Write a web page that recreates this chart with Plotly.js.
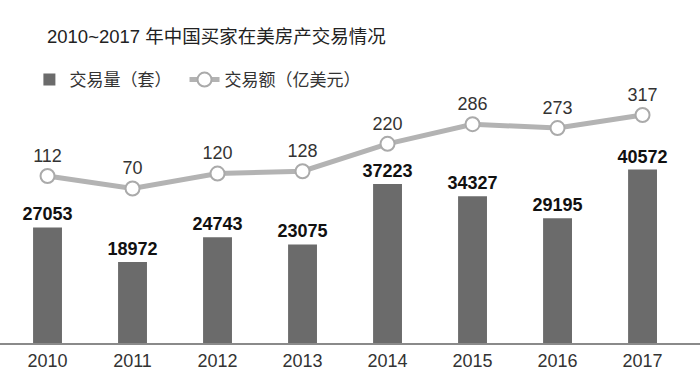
<!DOCTYPE html>
<html>
<head>
<meta charset="utf-8">
<script src="https://cdn.plot.ly/plotly-3.0.1.min.js"></script>
<style>html,body{margin:0;padding:0;background:#fff;}#chart{width:700px;height:375px;}</style>
</head>
<body>
<div id="chart"></div>
<script>
const years = ['2010','2011','2012','2013','2014','2015','2016','2017'];
const volume = [27053, 18972, 24743, 23075, 37223, 34327, 29195, 40572];
const amount = [112, 70, 120, 128, 220, 286, 273, 317];
const titleText = '2010~2017 年中国买家在美房产交易情况';
const volumeName = '交易量（套）';
const amountName = '交易额（亿美元）';

const FONT = 'Liberation Sans, Arial, Noto Sans CJK SC, sans-serif';

const traces = [
  {
    type: 'bar', x: years, y: volume, name: volumeName, legend: 'legend',
    marker: {color: '#6b6b6b'}, width: 0.34,
    text: volume.map(String), textposition: 'outside', cliponaxis: false, constraintext: 'none',
    textfont: {family: FONT, size: 18, color: '#111', weight: 'bold'},
    hoverinfo: 'none'
  },
  {
    type: 'scatter', mode: 'lines+markers+text', x: years, y: amount, yaxis: 'y2', name: amountName, legend: 'legend2',
    line: {color: '#b3b3b3', width: 5},
    marker: {size: 14, color: '#ffffff', line: {color: '#aaaaaa', width: 2}},
    text: amount.map(String), textposition: 'top center', cliponaxis: false,
    textfont: {family: FONT, size: 18, color: '#333'},
    hoverinfo: 'none'
  }
];

const legendFont = {family: FONT, size: 17, color: '#333'};
const layout = {
  width: 700, height: 375,
  margin: {l: 0, r: 0, t: 0, b: 32},
  paper_bgcolor: '#ffffff', plot_bgcolor: '#ffffff',
  font: {family: FONT, color: '#333'},
  title: {text: titleText, x: 47/700, xanchor: 'left', xref: 'container', y: 1 - 37/375, yanchor: 'middle', yref: 'container',
          font: {family: FONT, size: 18.5, color: '#222'}},
  showlegend: true,
  legend: {orientation: 'h', x: 0.042, xanchor: 'left', y: (343-80)/343, yanchor: 'middle',
           font: legendFont, bgcolor: 'rgba(0,0,0,0)'},
  legend2: {orientation: 'h', x: 0.2636, xanchor: 'left', y: (343-80)/343, yanchor: 'middle',
           font: legendFont, bgcolor: 'rgba(0,0,0,0)'},
  xaxis: {type: 'category', range: [-0.559, 7.676], showline: true, linecolor: '#8a8a8a', linewidth: 2,
          ticks: '', showgrid: false, zeroline: false, fixedrange: true,
          tickfont: {family: FONT, size: 18, color: '#333'}},
  yaxis: {range: [0, 80262], visible: false, showgrid: false, zeroline: false, fixedrange: true},
  yaxis2: {range: [-449.3, 703.4], overlaying: 'y', visible: false, showgrid: false, zeroline: false, fixedrange: true},
  bargap: 0.6
};

Plotly.newPlot('chart', traces, layout, {displayModeBar: false, staticPlot: true});
</script>
</body>
</html>
